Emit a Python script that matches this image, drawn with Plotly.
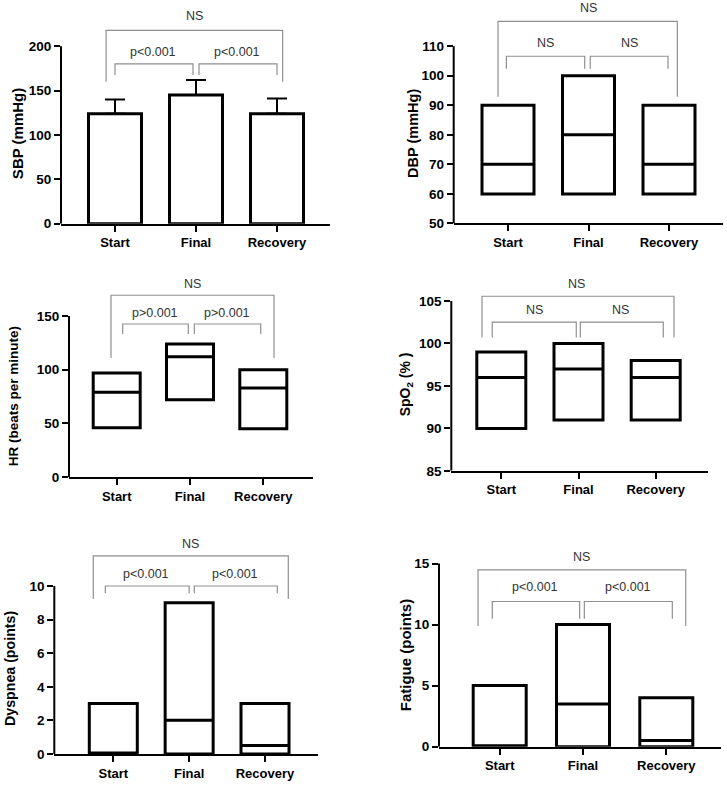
import plotly.graph_objects as go

# ---------------- data ----------------
categories = ["Start", "Final", "Recovery"]

sbp_mean = [124, 145, 124]
sbp_sd = [16, 17, 17]

dbp_min = [60, 60, 60]
dbp_median = [70, 80, 70]
dbp_max = [90, 100, 90]

hr_min = [46, 72, 45]
hr_median = [79, 112, 83]
hr_max = [97, 124, 100]

spo2_min = [90, 91, 91]
spo2_median = [96, 97, 96]
spo2_max = [99, 100, 98]

dysp_min = [0, 0, 0]
dysp_median = [0, 2, 0.5]
dysp_max = [3, 9, 3]

fat_min = [0, 0, 0]
fat_median = [0, 3.5, 0.5]
fat_max = [5, 10, 4]

sbp_ticks = [0, 50, 100, 150, 200]
dbp_ticks = [50, 60, 70, 80, 90, 100, 110]
hr_ticks = [0, 50, 100, 150]
spo2_ticks = [85, 90, 95, 100, 105]
dysp_ticks = [0, 2, 4, 6, 8, 10]
fat_ticks = [0, 5, 10, 15]

sbp_sig = ["NS", "p<0.001", "p<0.001"]
dbp_sig = ["NS", "NS", "NS"]
hr_sig = ["NS", "p>0.001", "p>0.001"]
spo2_sig = ["NS", "NS", "NS"]
dysp_sig = ["NS", "p<0.001", "p<0.001"]
fat_sig = ["NS", "p<0.001", "p<0.001"]

# ---------------- layout geometry (pixels) ----------------
W, H = 727, 788
FONT = "Arial, Liberation Sans, Helvetica, sans-serif"
BRACKET_COLOR = "#8f8f8f"
TEXT_COLOR = "#333333"

panels = [
    dict(kind="bar", mean=sbp_mean, sd=sbp_sd, ticks=sbp_ticks, sig=sbp_sig,
         left=61, right=330, top=2, bot=226, ref_px=46.7, ref_val=200,
         cats_px=(115, 277), box_px=53,
         title="SBP (mmHg)", title_xy=(17.5, 135), title_size=15,
         big=(-0.11, 2.07, 217.9, 160), s1=(0.0, 0.963, 180, 167.6), s2=(1.037, 2.0, 180, 167.6),
         t0=(0.98, 233.5), t1=(0.47, 193), t2=(1.5, 193)),
    dict(kind="box", lo=dbp_min, med=dbp_median, hi=dbp_max, ticks=dbp_ticks, sig=dbp_sig,
         left=453.7, right=723, top=2, bot=225.7, ref_px=46.7, ref_val=110,
         cats_px=(508, 669), box_px=52,
         title="DBP (mmHg)", title_xy=(412.3, 135), title_size=14.5,
         big=(-0.124, 2.103, 118.4, 92.9), s1=(-0.02, 0.953, 106.6, 102.4), s2=(1.022, 1.988, 106.6, 102.4),
         t0=(0.994, 122.9), t1=(0.468, 111.1), t2=(1.51, 111.1)),
    dict(kind="box", lo=hr_min, med=hr_median, hi=hr_max, ticks=hr_ticks, sig=hr_sig,
         left=69, right=313, top=270, bot=482, ref_px=319.3, ref_val=150,
         cats_px=(116.7, 263.3), box_px=47,
         title="HR (beats per minute)", title_xy=(14.3, 400), title_size=13.5,
         big=(-0.078, 2.146, 169.4, 110.9), s1=(0.082, 0.977, 142.6, 133.4), s2=(1.059, 1.965, 142.6, 133.4),
         t0=(1.037, 180), t1=(0.52, 153), t2=(1.51, 153)),
    dict(kind="box", lo=spo2_min, med=spo2_median, hi=spo2_max, ticks=spo2_ticks, sig=spo2_sig,
         left=451.3, right=708, top=270, bot=475.7, ref_px=304, ref_val=105,
         cats_px=(501.3, 655.7), box_px=49,
         title="SpO<sub>2</sub> (% )", title_xy=(406.3, 388), title_size=14,
         big=(-0.25, 2.237, 105.55, 100.7), s1=(-0.117, 0.971, 102.5, 100.7), s2=(1.023, 2.098, 102.5, 100.7),
         t0=(0.98, 107.0), t1=(0.43, 103.9), t2=(1.55, 103.9)),
    dict(kind="box", lo=dysp_min, med=dysp_median, hi=dysp_max, ticks=dysp_ticks, sig=dysp_sig,
         left=54.3, right=318.3, top=535, bot=761.7, ref_px=592, ref_val=10,
         cats_px=(113.3, 265), box_px=48,
         title="Dyspnea (points)", title_xy=(10, 675.8), title_size=14.2,
         big=(-0.264, 2.307, 11.79, 9.23), s1=(-0.105, 1.0, 10.0, 9.57), s2=(1.068, 2.162, 10.0, 9.57),
         t0=(1.02, 12.5), t1=(0.427, 10.7), t2=(1.61, 10.7)),
    dict(kind="box", lo=fat_min, med=fat_median, hi=fat_max, ticks=fat_ticks, sig=fat_sig,
         left=439, right=721.3, top=535, bot=754.3, ref_px=569.3, ref_val=15,
         cats_px=(499.7, 666.3), box_px=53,
         title="Fatigue (points)", title_xy=(406.3, 661.7), title_size=15,
         big=(-0.26, 2.233, 14.48, 9.89), s1=(-0.089, 0.96, 11.89, 10.48), s2=(1.016, 2.072, 11.89, 10.48),
         t0=(0.98, 15.57), t1=(0.42, 13.05), t2=(1.54, 13.05)),
]

fig = go.Figure()
shapes = []
annotations = []
layout_axes = {}
xpos = list(range(len(categories)))

for i, p in enumerate(panels):
    n = i + 1
    sfx = "" if n == 1 else str(n)
    xa, ya = "x" + sfx, "y" + sfx
    ybase = p["ticks"][0]
    ppy = (p["bot"] - p["ref_px"]) / (p["ref_val"] - ybase)
    ytop = ybase + (p["bot"] - p["top"]) / ppy
    c0, c2 = p["cats_px"]
    ppx = (c2 - c0) / 2.0
    xr = [(p["left"] - c0) / ppx, (p["right"] - c0) / ppx]
    bw = p["box_px"] / ppx

    if p["kind"] == "bar":
        fig.add_trace(go.Bar(
            x=xpos, y=p["mean"], width=bw, xaxis=xa, yaxis=ya,
            marker=dict(color="white", line=dict(color="black", width=3)),
            error_y=dict(type="data", array=p["sd"], arrayminus=[0] * len(p["sd"]),
                         symmetric=False, color="black", thickness=2, width=10),
            showlegend=False, hoverinfo="skip"))
    else:
        fig.add_trace(go.Box(
            x=xpos, q1=p["lo"], median=p["med"], q3=p["hi"],
            lowerfence=p["lo"], upperfence=p["hi"], width=bw, orientation="v",
            fillcolor="white", line=dict(color="black", width=3), whiskerwidth=0,
            boxpoints=False, xaxis=xa, yaxis=ya, showlegend=False, hoverinfo="skip"))

    axfont = dict(family=FONT, size=13, color="black", weight="bold")
    layout_axes["xaxis" + sfx] = dict(
        domain=[p["left"] / W, p["right"] / W], range=xr, anchor=ya,
        tickvals=xpos, ticktext=categories, showline=True, linecolor="black",
        linewidth=2, ticks="outside", ticklen=6, tickwidth=2, tickcolor="black",
        showgrid=False, zeroline=False, tickfont=axfont, fixedrange=True)
    layout_axes["yaxis" + sfx] = dict(
        domain=[1 - p["bot"] / H, 1 - p["top"] / H], range=[ybase, ytop], anchor=xa,
        tickvals=p["ticks"], showline=False, ticks="outside", ticklen=6, tickwidth=2,
        tickcolor="black", showgrid=False, zeroline=False,
        tickfont=dict(family=FONT, size=13.5, color="black", weight="bold"), fixedrange=True)

    # y axis line only up to the last tick
    shapes.append(dict(type="line", xref=f"{xa} domain", yref=ya, x0=0, x1=0,
                       y0=ybase, y1=p["ticks"][-1], line=dict(color="black", width=2)))

    # significance brackets
    for key in ("big", "s1", "s2"):
        x0, x1, yt, yd = p[key]
        shapes.append(dict(type="path", xref=xa, yref=ya,
                           path=f"M {x0},{yd} L {x0},{yt} L {x1},{yt} L {x1},{yd}",
                           line=dict(color=BRACKET_COLOR, width=1.2)))
    for key, txt in zip(("t0", "t1", "t2"), p["sig"]):
        tx, ty = p[key]
        annotations.append(dict(x=tx, y=ty, xref=xa, yref=ya, text=txt, showarrow=False,
                                font=dict(family=FONT, size=12.5, color=TEXT_COLOR)))

    # y axis title
    tx, ty = p["title_xy"]
    annotations.append(dict(x=tx / W, y=1 - ty / H, xref="paper", yref="paper",
                            text=p["title"], textangle=-90, showarrow=False,
                            xanchor="center", yanchor="middle",
                            font=dict(family=FONT, size=p["title_size"], color="black", weight="bold")))

fig.update_layout(
    width=W, height=H, autosize=False,
    margin=dict(l=0, r=0, t=0, b=0),
    paper_bgcolor="white", plot_bgcolor="white",
    shapes=shapes, annotations=annotations, showlegend=False,
    **layout_axes)

fig.write_html("out.html", post_script="document.body.style.margin='0';",
               config={"displayModeBar": False})
